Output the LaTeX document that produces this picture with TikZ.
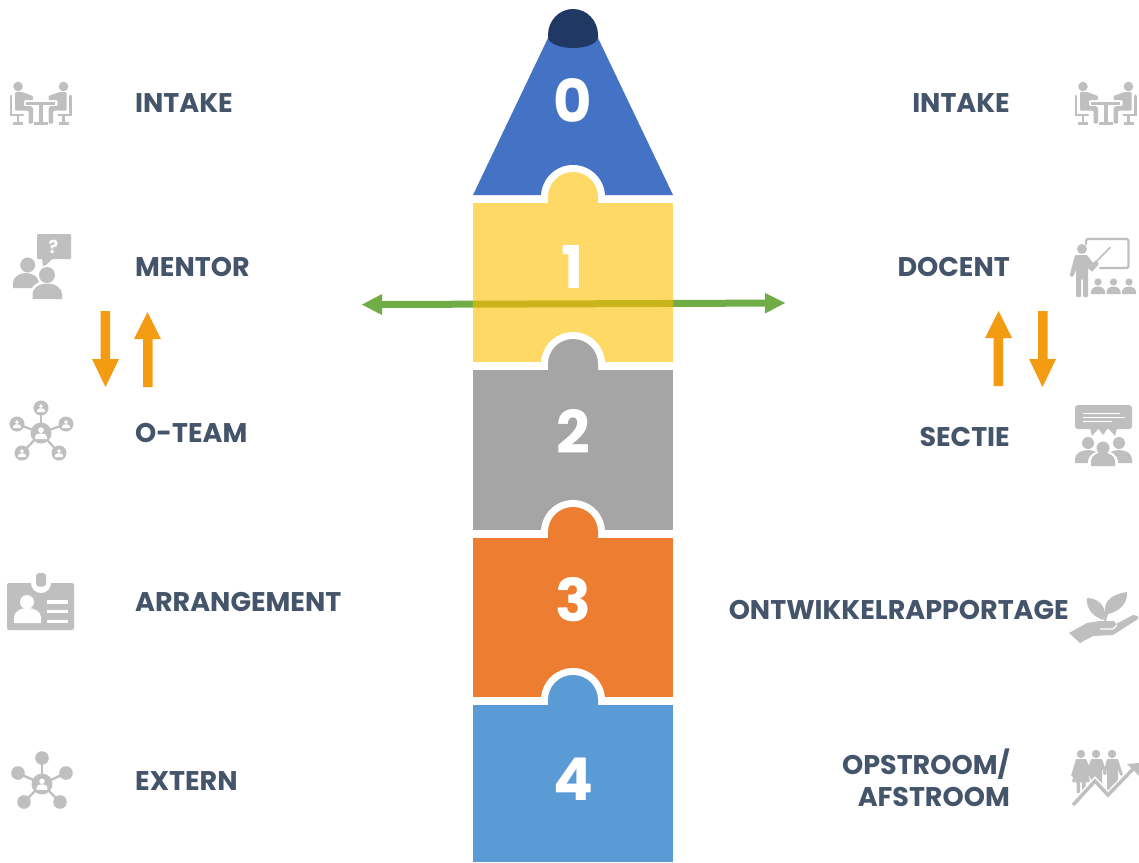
\documentclass[tikz,border=0pt]{standalone}
\usepackage{fontspec}
\setmainfont{Poppins}
\newfontfamily\labfont{Poppins}[UprightFont=* Bold]
\newfontfamily\numfont{Poppins}[UprightFont=* Bold]
\usetikzlibrary{calc}
\definecolor{icongray}{HTML}{BFBFBF}
\definecolor{labcol}{HTML}{44546A}
\definecolor{arrorange}{HTML}{F39C12}
\definecolor{arrgreen}{HTML}{70AD47}
\definecolor{mixgreen}{HTML}{C8B41C}
\definecolor{pc0}{HTML}{4472C4}
\definecolor{pc1}{HTML}{FFD966}
\definecolor{pc2}{HTML}{A5A5A5}
\definecolor{pc3}{HTML}{ED7D31}
\definecolor{pc4}{HTML}{5B9BD5}
\definecolor{capcol}{HTML}{1F3864}
\tikzset{
 lab/.style={text=labcol,font=\labfont\fontsize{27}{30}\selectfont,inner sep=0pt},
 labl/.style={lab,anchor=base west},
 labr/.style={lab,anchor=base east},
 num/.style={text=white,font=\numfont\fontsize{59}{62}\selectfont,inner sep=0pt,anchor=base},
 ic/.style={fill=icongray,draw=none},
 icl/.style={draw=icongray,line cap=round,line join=round},
 wh/.style={fill=white,draw=none},
 whl/.style={draw=white},
 notch/.style={fill=white,draw=none},
}
% one half of the intake icon, drawn for the left side
\newcommand{\intakehalf}{%
 \fill[ic] (18,86.5) circle (4.8);
 \fill[ic,rounded corners=1pt] (15,92) -- (22,92) -- (33,96) -- (33,100) -- (24,100) -- (24,106) -- (31,106) -- (33,108) -- (33,123.5) -- (28.5,123.5) -- (28.5,110.5) -- (15,110.5) -- cycle;
 \draw[icl,line width=2.6pt,line join=miter] (11,96) -- (11,115) -- (23,115);
 \fill[ic] (16.7,115) rectangle (19.3,123);
 \fill[ic] (13,122) rectangle (23,124.5);
}
\newcommand{\intakeicon}{%
 \intakehalf
 \begin{scope}[xshift=81.5pt,xscale=-1]\intakehalf\end{scope}
 \fill[ic] (26,101.5) rectangle (55,104.7);
 \fill[ic] (38.8,104) rectangle (42.6,123);
 \fill[ic] (34,121.5) rectangle (47.5,124.5);
}
\newcommand{\person}[3]{% x, y, scale: white person
 \fill[wh] (#1,{#2-1.6*#3}) circle ({1.6*#3});
 \fill[wh] ({#1-3.2*#3},{#2+3.4*#3}) -- ({#1-3.2*#3},{#2+1.8*#3}) arc[start angle=180,end angle=360,x radius={3.2*#3},y radius={1.6*#3}] -- ({#1+3.2*#3},{#2+3.4*#3}) -- cycle;
}
\begin{document}
\begin{tikzpicture}[x=1pt,y=-1pt]
\useasboundingbox (0,0) rectangle (1139,862);
\fill[white] (0,0) rectangle (1139,862);

% green double arrow
\coordinate (gl) at (362,304.6);
\coordinate (gr) at (785,303);
\fill[arrgreen] (gl) -- (382,294) -- (382,301) -- (765,299.6) -- (765,293) -- (gr) -- (765,313.5) -- (765,306.6) -- (382,308) -- (382,315) -- cycle;

% puzzle piece 0
\fill[pc0] (473,195) -- (548,38) -- (598,38) -- (673,195) -- cycle;
\fill[capcol] (548,35) arc[start angle=180,end angle=360,x radius=25,y radius=26] -- (598,37) arc[start angle=0,end angle=180,x radius=25,y radius=11] -- cycle;

% piece 1
\fill[notch] (541,197) arc[start angle=180,end angle=360,radius=32] -- (605,203) -- (541,203) -- cycle;
\fill[pc1] (473,203) rectangle (673,362);
\fill[pc1] (548,204) -- (548,197) arc[start angle=180,end angle=360,radius=25] -- (598,204) -- cycle;
% green line seen through the yellow
\fill[mixgreen] (473,300.7) -- (673,299.95) -- (673,306.95) -- (473,307.7) -- cycle;

% piece 2
\fill[notch] (541,364) arc[start angle=180,end angle=360,radius=32] -- (605,370) -- (541,370) -- cycle;
\fill[pc2] (473,370) rectangle (673,530);
\fill[pc2] (548,371) -- (548,364) arc[start angle=180,end angle=360,radius=25] -- (598,371) -- cycle;

% piece 3
\fill[notch] (541,532) arc[start angle=180,end angle=360,radius=32] -- (605,538) -- (541,538) -- cycle;
\fill[pc3] (473,538) rectangle (673,697);
\fill[pc3] (548,539) -- (548,532) arc[start angle=180,end angle=360,radius=25] -- (598,539) -- cycle;

% piece 4
\fill[notch] (541,700) arc[start angle=180,end angle=360,radius=32] -- (605,705) -- (541,705) -- cycle;
\fill[pc4] (473,705) rectangle (673,862);
\fill[pc4] (548,706) -- (548,700) arc[start angle=180,end angle=360,radius=25] -- (598,706) -- cycle;

% digits
\node[num] (n0) at (573,122.5) {0};
\node[num] (n1) at (573,288) {1};
\node[num] (n2) at (573,453) {2};
\node[num] (n3) at (573,621) {3};
\node[num] (n4) at (573,800) {4};

% labels
\node[labl] (l1) at (135,112.5) {INTAKE};
\node[labl] (l2) at (135,276.5) {MENTOR};
\node[labl] (l3) at (135,442.5) {O-TEAM};
\node[labl] (l4) at (135,611) {ARRANGEMENT};
\node[labl] (l5) at (135,790) {EXTERN};
\node[labr] (r1) at (1010,112.5) {INTAKE};
\node[labr] (r2) at (1010,276.5) {DOCENT};
\node[labr] (r3) at (1010,446.5) {SECTIE};
\node[labr] (r4) at (1069,619) {ONTWIKKELRAPPORTAGE};
\node[labr] (r5) at (1010,774) {OPSTROOM/};
\node[labr] (r6) at (1010,806) {AFSTROOM};

% orange arrows
\fill[arrorange] (100.5,311) -- (110,311) -- (110,359) -- (119,359) -- (105.5,387) -- (92,359) -- (100.5,359) -- cycle;
\fill[arrorange] (143,387) -- (152.5,387) -- (152.5,339) -- (161,339) -- (147.5,312) -- (134,339) -- (143,339) -- cycle;
\fill[arrorange] (993.5,386) -- (1003,386) -- (1003,338) -- (1012,338) -- (998.5,311) -- (985,338) -- (993.5,338) -- cycle;
\fill[arrorange] (1038,311) -- (1047.5,311) -- (1047.5,359) -- (1056,359) -- (1042.5,387) -- (1029,359) -- (1038,359) -- cycle;

% intake icons
\intakeicon
\begin{scope}[xshift=1065pt]\intakeicon\end{scope}

% mentor icon
\fill[ic,rounded corners=1pt] (37,234) rectangle (71,259);
\fill[ic] (42,258) -- (43,268) -- (53,258) -- cycle;
\node[text=white,font=\numfont\fontsize{18}{18}\selectfont,inner sep=0pt] (q) at (53.5,246.5) {?};
\fill[ic] (27.7,265) circle (7.5);
\fill[ic] (13,288) -- (13,283) arc[start angle=180,end angle=360,x radius=13,y radius=10] -- (39,288) -- cycle;
\fill[wh] (47,275) circle (10);
\fill[wh] (30,301) -- (30,294) arc[start angle=180,end angle=360,x radius=17,y radius=13] -- (64,301) -- cycle;
\fill[ic] (47,275) circle (8);
\fill[ic] (32.5,299) -- (32.5,294) arc[start angle=180,end angle=360,x radius=14.75,y radius=10.5] -- (62,299) -- cycle;

% o-team icon
\foreach \a/\b in {41/408,17/424,66/424,22/453,59/453}{\draw[icl,line width=2.2pt] (41,433) -- (\a,\b);}
\foreach \a/\b in {41/408,17/424,66/424,22/453,59/453}{\fill[ic] (\a,\b) circle (7.5);\person{\a}{\b}{1.2}}
\fill[ic] (41,433) circle (10.5);
\person{41}{433}{1.8}

% arrangement badge
\fill[ic,rounded corners=2pt] (7,583) rectangle (74,630);
\fill[wh] (41,583) circle (10);
\fill[wh] (31,578) rectangle (51,583);
\fill[ic,rounded corners=3pt] (36,573) rectangle (46,586.5);
\fill[wh] (27,602) circle (7);
\fill[wh] (14,623) -- (14,617) arc[start angle=180,end angle=360,x radius=13.5,y radius=9] -- (41,623) -- cycle;
\fill[wh] (47,600) rectangle (68,603.5);
\fill[wh] (47,609.5) rectangle (68,613);
\fill[wh] (47,619.5) rectangle (68,623);

% extern icon
\foreach \a/\b in {42/758,18/773,66/773,24/802,60/802}{\draw[icl,line width=2.4pt] (42,784) -- (\a,\b);\fill[ic] (\a,\b) circle (6.8);}
\fill[ic] (42,784) circle (10.5);
\person{42}{784}{1.7}

% docent icon
\draw[icl,line width=2.4pt,rounded corners=1.5pt] (1086,244) -- (1086,239) -- (1128.5,239) -- (1128.5,268) -- (1100,268);
\draw[icl,line width=1.6pt] (1110,247.5) -- (1096,262);
\fill[ic] (1082,249) circle (5);
\fill[ic,rounded corners=1pt] (1075,255) -- (1087,255) -- (1093,263) -- (1096,260) -- (1099,264) -- (1092,272) -- (1088,268) -- (1088,297) -- (1083,297) -- (1083,279) -- (1081,279) -- (1081,297) -- (1076,297) -- (1076,270) -- (1073,277) -- (1069.5,276) -- cycle;
\foreach \a in {1098,1113.5,1129}{
 \fill[ic] (\a,282) circle (3.6);
 \fill[ic] ({\a-7},294) -- ({\a-7},292) arc[start angle=180,end angle=360,x radius=7,y radius=5.5] -- ({\a+7},294) -- cycle;
}

% sectie icon
\fill[ic,rounded corners=3pt] (1075,405) rectangle (1132,429);
\fill[ic] (1090,428) -- (1092,436) -- (1099,428) -- cycle;
\fill[ic] (1098,428) -- (1103,435) -- (1108,428) -- cycle;
\fill[ic] (1108,428) -- (1115,436) -- (1117,428) -- cycle;
\draw[whl,line width=1pt] (1083,413) -- (1120,413);
\draw[whl,line width=1pt] (1083,417) -- (1125,417);
\draw[whl,line width=1pt] (1083,421) -- (1112,421);
\fill[ic] (1088,443) circle (6);
\fill[ic] (1119,443) circle (6);
\fill[ic] (1075,463) -- (1075,459) arc[start angle=180,end angle=360,x radius=13,y radius=9] -- (1101,463) -- cycle;
\fill[ic] (1106,463) -- (1106,459) arc[start angle=180,end angle=360,x radius=13,y radius=9] -- (1132,463) -- cycle;
\fill[wh] (1103,448) circle (8);
\fill[wh] (1088,468) -- (1088,461) arc[start angle=180,end angle=360,x radius=15,y radius=10] -- (1118,468) -- cycle;
\fill[ic] (1103,448) circle (6.5);
\fill[ic] (1091,466) -- (1091,461) arc[start angle=180,end angle=360,x radius=12,y radius=8.5] -- (1115,466) -- cycle;

% plant-in-hand icon
\fill[ic] (1103,620) .. controls (1092,616) and (1086,608) .. (1087,598) .. controls (1098,598) and (1106,606) .. (1105,617) -- cycle;
\fill[ic] (1105,614) .. controls (1103,600) and (1113,594) .. (1127,592) .. controls (1128,604) and (1118,612) .. (1108,614) -- (1106,621) -- (1104,621) -- cycle;
\fill[ic] (1069,633) -- (1087,623) -- (1100,621) -- (1114,621) -- (1116,624) -- (1133,615) -- (1138,616) -- (1138,619) -- (1113,635) -- (1093,636) -- (1080,643) -- cycle;
\draw[whl,line width=1.3pt] (1100,629) -- (1113,629) -- (1117,625);

% opstroom/afstroom icon
\foreach \a in {1081,1096,1112}{\fill[ic] (\a,754) circle (4.2);}
\fill[ic,rounded corners=0.8pt] (1076,759) -- (1086,759) -- (1090,768) -- (1093,778) -- (1090.5,779) -- (1088,773) -- (1090,782) -- (1085.5,782) -- (1085.5,793) -- (1082,793) -- (1082,782) -- (1080,782) -- (1080,793) -- (1076.5,793) -- (1076.5,782) -- (1072,782) -- (1075,768) -- (1073,777) -- (1071,776) -- cycle;
\fill[ic,rounded corners=0.8pt] (1091,759) -- (1102,759) -- (1107,774) -- (1104.5,775) -- (1102,768) -- (1102,786) -- (1091,786) -- (1091,768) -- (1089,775) -- (1086.5,774) -- cycle;
\fill[ic,rounded corners=0.8pt] (1107,759) -- (1118,759) -- (1123,775) -- (1120.5,776) -- (1118,769) -- (1118,784) -- (1107,792) -- (1107,769) -- (1105,775) -- (1103,774) -- cycle;
\draw[whl,line width=6.5pt,line cap=butt,line join=miter] (1073,805) -- (1095,781) -- (1108,795) -- (1134,768);
\draw[icl,line width=3.5pt,line cap=butt,line join=miter] (1073,805) -- (1095,781) -- (1108,795) -- (1134,768);
\fill[ic] (1139,763) -- (1139,776) -- (1127,764) -- cycle;
\end{tikzpicture}
\end{document}
